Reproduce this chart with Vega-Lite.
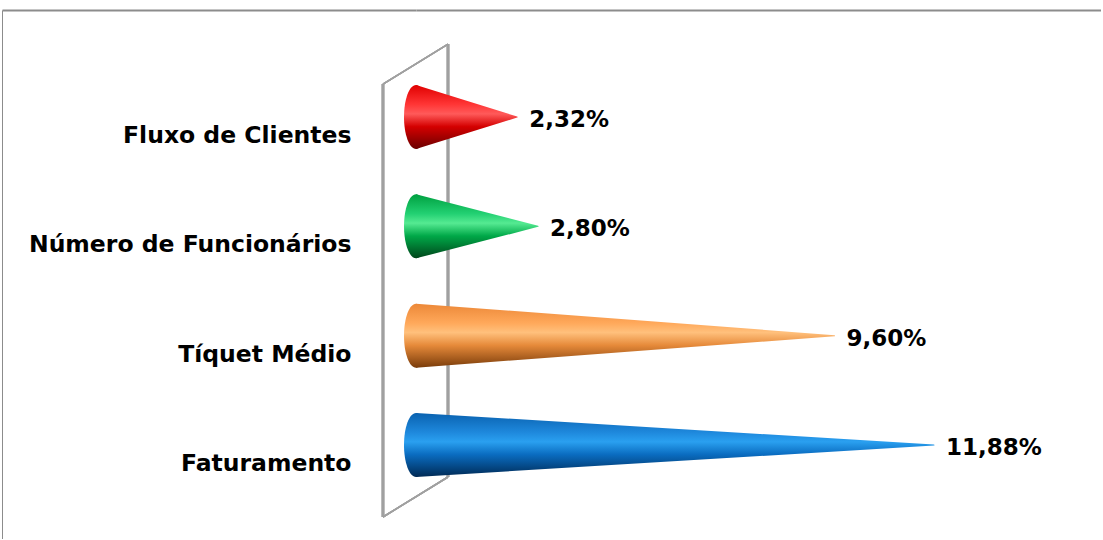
{
  "$schema": "https://vega.github.io/schema/vega-lite/v6.json",
  "padding": {"left": 2, "top": 10, "right": 0, "bottom": 0},
  "background": "white",
  "spacing": 0,
  "bounds": "flush",
  "config": {
    "view": {"stroke": null},
    "locale": {"number": {"decimal": ",", "thousands": ".", "grouping": [3], "currency": ["R$", ""]}}
  },
  "datasets": {
    "dados": [
      {"indicador": "Fluxo de Clientes", "inicio": 0, "valor": 0.0232},
      {"indicador": "Número de Funcionários", "inicio": 0, "valor": 0.028},
      {"indicador": "Tíquet Médio", "inicio": 0, "valor": 0.096},
      {"indicador": "Faturamento", "inicio": 0, "valor": 0.1188}
    ]
  },
  "hconcat": [
    {
      "width": 414,
      "height": 529,
      "data": {"name": "dados"},
      "mark": {"type": "point", "opacity": 0},
      "encoding": {
        "x": {"field": "valor", "type": "quantitative",
              "axis": {"orient": "top", "domain": true, "domainColor": "#8c8c8c", "domainWidth": 2, "labels": false, "ticks": false, "grid": false, "title": null}},
        "y": {"field": "indicador", "type": "nominal",
              "axis": {"domain": true, "domainColor": "#8c8c8c", "domainWidth": 1, "labels": false, "ticks": false, "grid": false, "title": null}}
      }
    },
    {
      "width": 685,
      "height": 529,
      "data": {"name": "dados"},
      "layer": [
        {
          "mark": {"type": "rule", "color": "#a0a0a0", "strokeWidth": 2.5},
          "encoding": {
            "x": {"datum": 0.00734, "type": "quantitative", "scale": {"domain": [0, 0.15711], "nice": false, "zero": false},
                  "axis": {"orient": "top", "domain": true, "domainColor": "#8c8c8c", "domainWidth": 2, "labels": false, "ticks": false, "grid": false, "title": null}},
            "y": {"datum": "Fluxo de Clientes", "type": "nominal", "bandPosition": -0.168},
            "y2": {"datum": "Faturamento", "bandPosition": 0.793}
          }
        },
        {
          "mark": {"type": "rule", "color": "#a0a0a0", "strokeWidth": 2.5},
          "encoding": {
            "x": {"datum": -0.00757, "type": "quantitative"},
            "y": {"datum": "Fluxo de Clientes", "type": "nominal", "bandPosition": 0.198},
            "y2": {"datum": "Faturamento", "bandPosition": 1.159}
          }
        },
        {
          "mark": {"type": "rule", "color": "#a0a0a0", "strokeWidth": 1.5},
          "encoding": {
            "x": {"datum": -0.00757, "type": "quantitative"},
            "x2": {"datum": 0.00734},
            "y": {"datum": "Fluxo de Clientes", "type": "nominal", "bandPosition": 0.198},
            "y2": {"datum": "Fluxo de Clientes", "bandPosition": -0.168}
          }
        },
        {
          "mark": {"type": "rule", "color": "#a0a0a0", "strokeWidth": 1.5},
          "encoding": {
            "x": {"datum": -0.00757, "type": "quantitative"},
            "x2": {"datum": 0.00734},
            "y": {"datum": "Faturamento", "type": "nominal", "bandPosition": 1.159},
            "y2": {"datum": "Faturamento", "bandPosition": 0.793}
          }
        },
        {
          "mark": {"type": "point", "filled": true, "opacity": 1, "strokeWidth": 0, "size": 4096,
                   "shape": "M0,-1A0.375,1,0,1,0,0,1A0.375,1,0,1,0,0,-1Z"},
          "encoding": {
            "x": {"field": "inicio", "type": "quantitative"},
            "y": {"field": "indicador", "type": "nominal",
                  "sort": ["Fluxo de Clientes", "Número de Funcionários", "Tíquet Médio", "Faturamento"],
                  "scale": {"paddingInner": 0, "paddingOuter": 0.42, "align": 0.571},
                  "axis": {"domain": false, "ticks": false, "grid": false, "title": null, "labelPadding": 65, "labelOffset": 19,
                           "labelFont": "DejaVu Sans", "labelFontWeight": "bold", "labelFontSize": 23.5, "labelColor": "#000000", "labelLimit": 600}},
            "fill": {
              "condition": [
                {"test": "datum.indicador === 'Fluxo de Clientes'", "value": {"gradient": "linear", "x1": 0, "y1": 0, "x2": 0, "y2": 1, "stops": [{"offset": 0, "color": "#e00000"}, {"offset": 0.3, "color": "#ff3535"}, {"offset": 0.45, "color": "#ff5a5a"}, {"offset": 0.65, "color": "#d40000"}, {"offset": 1, "color": "#6a0000"}]}},
                {"test": "datum.indicador === 'Número de Funcionários'", "value": {"gradient": "linear", "x1": 0, "y1": 0, "x2": 0, "y2": 1, "stops": [{"offset": 0, "color": "#00a040"}, {"offset": 0.3, "color": "#22d072"}, {"offset": 0.45, "color": "#55ea92"}, {"offset": 0.65, "color": "#00a848"}, {"offset": 1, "color": "#00451a"}]}},
                {"test": "datum.indicador === 'Tíquet Médio'", "value": {"gradient": "linear", "x1": 0, "y1": 0, "x2": 0, "y2": 1, "stops": [{"offset": 0, "color": "#ec8838"}, {"offset": 0.3, "color": "#ffa85a"}, {"offset": 0.45, "color": "#ffc07c"}, {"offset": 0.65, "color": "#e68a3a"}, {"offset": 1, "color": "#7a3c0a"}]}}
              ],
              "value": {"gradient": "linear", "x1": 0, "y1": 0, "x2": 0, "y2": 1, "stops": [{"offset": 0, "color": "#0a62b0"}, {"offset": 0.3, "color": "#1e88dc"}, {"offset": 0.45, "color": "#2aa0f0"}, {"offset": 0.65, "color": "#0a6cc0"}, {"offset": 1, "color": "#002a55"}]}
            }
          }
        },
        {
          "transform": [{"fold": ["inicio", "valor"], "as": ["ponto", "percentual"]}],
          "mark": {"type": "trail", "clip": true},
          "encoding": {
            "x": {"field": "percentual", "type": "quantitative"},
            "y": {"field": "indicador", "type": "nominal",
                  "sort": ["Fluxo de Clientes", "Número de Funcionários", "Tíquet Médio", "Faturamento"]},
            "detail": {"field": "indicador"},
            "order": {"field": "percentual", "type": "quantitative"},
            "size": {"condition": {"test": "datum.ponto === 'inicio'", "value": 64}, "value": 0},
            "fill": {
              "condition": [
                {"test": "datum.indicador === 'Fluxo de Clientes'", "value": {"gradient": "linear", "x1": 0, "y1": 0, "x2": 0, "y2": 1, "stops": [{"offset": 0, "color": "#e00000"}, {"offset": 0.3, "color": "#ff3535"}, {"offset": 0.45, "color": "#ff5a5a"}, {"offset": 0.65, "color": "#d40000"}, {"offset": 1, "color": "#6a0000"}]}},
                {"test": "datum.indicador === 'Número de Funcionários'", "value": {"gradient": "linear", "x1": 0, "y1": 0, "x2": 0, "y2": 1, "stops": [{"offset": 0, "color": "#00a040"}, {"offset": 0.3, "color": "#22d072"}, {"offset": 0.45, "color": "#55ea92"}, {"offset": 0.65, "color": "#00a848"}, {"offset": 1, "color": "#00451a"}]}},
                {"test": "datum.indicador === 'Tíquet Médio'", "value": {"gradient": "linear", "x1": 0, "y1": 0, "x2": 0, "y2": 1, "stops": [{"offset": 0, "color": "#ec8838"}, {"offset": 0.3, "color": "#ffa85a"}, {"offset": 0.45, "color": "#ffc07c"}, {"offset": 0.65, "color": "#e68a3a"}, {"offset": 1, "color": "#7a3c0a"}]}}
              ],
              "value": {"gradient": "linear", "x1": 0, "y1": 0, "x2": 0, "y2": 1, "stops": [{"offset": 0, "color": "#0a62b0"}, {"offset": 0.3, "color": "#1e88dc"}, {"offset": 0.45, "color": "#2aa0f0"}, {"offset": 0.65, "color": "#0a6cc0"}, {"offset": 1, "color": "#002a55"}]}
            }
          }
        },
        {
          "mark": {"type": "text", "align": "left", "baseline": "middle", "dx": 12, "dy": 3,
                   "font": "DejaVu Sans", "fontWeight": "bold", "fontSize": 23, "color": "#000000"},
          "encoding": {
            "x": {"field": "valor", "type": "quantitative"},
            "y": {"field": "indicador", "type": "nominal",
                  "sort": ["Fluxo de Clientes", "Número de Funcionários", "Tíquet Médio", "Faturamento"]},
            "text": {"field": "valor", "type": "quantitative", "format": ".2%"}
          }
        }
      ]
    }
  ]
}
